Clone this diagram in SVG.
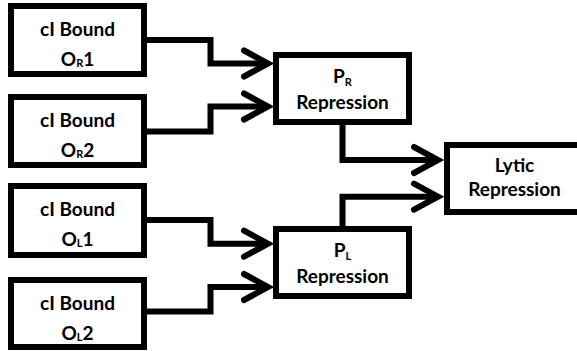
<svg xmlns="http://www.w3.org/2000/svg" width="577" height="351" viewBox="0 0 577 351">
  <defs>
    <style>
      .box { fill: #fff; stroke: #000; stroke-width: 6; }
      .lbl { font-family: Lato, "Liberation Sans", sans-serif; font-weight: bold; font-size: 19px; fill: #000; text-anchor: middle; }
      .sub { font-size: 11px; }
      .wire { fill: none; stroke: #000; stroke-width: 6; stroke-linejoin: miter; marker-end: url(#chev); }
    </style>
    <marker id="chev" markerUnits="userSpaceOnUse" markerWidth="40" markerHeight="40" refX="0" refY="0" orient="auto" overflow="visible">
      <path d="M-24,-13 L0,0 L-24,13" fill="none" stroke="#000" stroke-width="6" stroke-linecap="round" stroke-linejoin="miter"/>
    </marker>
  </defs>

  <!-- connectors -->
  <g id="connectors">
    <path class="wire" d="M144,40 H210.5 V63.5 H268"/>
    <path class="wire" d="M144,131.5 H210.5 V106.5 H268"/>
    <path class="wire" d="M144,220 H210.5 V243.7 H268"/>
    <path class="wire" d="M144,311.5 H210.5 V287 H268"/>
    <path class="wire" d="M342.5,122 V160 H438"/>
    <path class="wire" d="M342.5,229 V196.7 H438"/>
  </g>

  <g id="or1">
    <rect class="box" x="11" y="6" width="133" height="68"/>
    <text class="lbl" x="77.5" y="35.5">cI Bound</text>
    <text class="lbl" x="77.5" y="65.5">O<tspan class="sub" dy="1">R</tspan><tspan dy="-1">1</tspan></text>
  </g>

  <g id="or2">
    <rect class="box" x="11" y="97" width="133" height="68"/>
    <text class="lbl" x="77.5" y="126.5">cI Bound</text>
    <text class="lbl" x="77.5" y="156.5">O<tspan class="sub" dy="1">R</tspan><tspan dy="-1">2</tspan></text>
  </g>

  <g id="ol1">
    <rect class="box" x="11" y="186" width="133" height="69"/>
    <text class="lbl" x="77.5" y="215.5">cI Bound</text>
    <text class="lbl" x="77.5" y="246">O<tspan class="sub" dy="1">L</tspan><tspan dy="-1">1</tspan></text>
  </g>

  <g id="ol2">
    <rect class="box" x="11" y="280" width="133" height="67"/>
    <text class="lbl" x="77.5" y="309.5">cI Bound</text>
    <text class="lbl" x="77.5" y="339.5">O<tspan class="sub" dy="1">L</tspan><tspan dy="-1">2</tspan></text>
  </g>

  <g id="pr">
    <rect class="box" x="276" y="55" width="133" height="67"/>
    <text class="lbl" x="342.5" y="83">P<tspan class="sub" dy="3">R</tspan></text>
    <text class="lbl" x="342.5" y="109">Repression</text>
  </g>

  <g id="pl">
    <rect class="box" x="276" y="229" width="133" height="67"/>
    <text class="lbl" x="342.5" y="257">P<tspan class="sub" dy="3">L</tspan></text>
    <text class="lbl" x="342.5" y="283">Repression</text>
  </g>

  <g id="lytic">
    <rect class="box" x="447" y="145" width="133" height="67"/>
    <text class="lbl" x="514.5" y="171.5">Lytic</text>
    <text class="lbl" x="514.5" y="196">Repression</text>
  </g>
</svg>
